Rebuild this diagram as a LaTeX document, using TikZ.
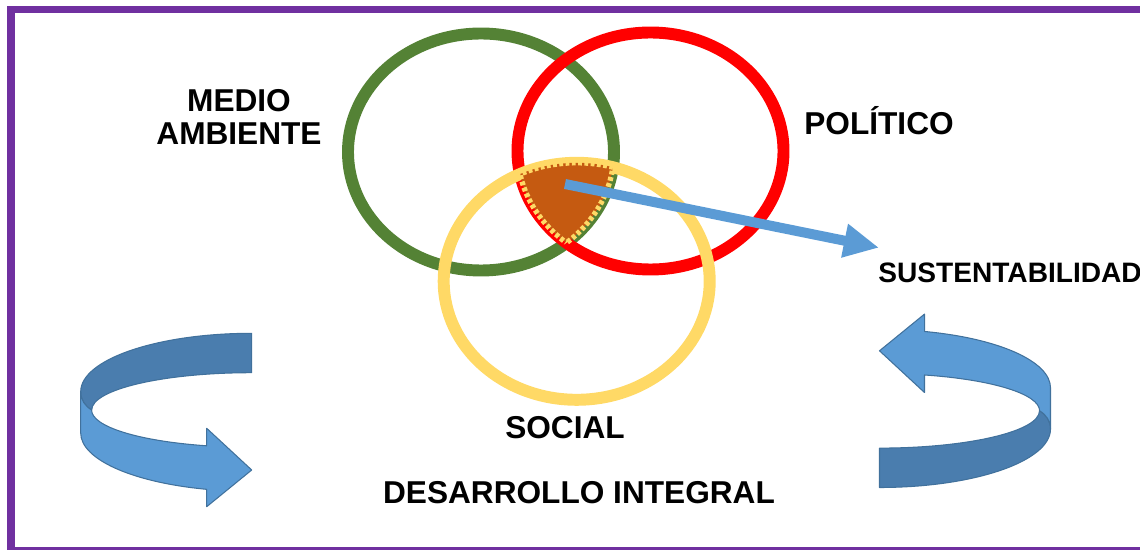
\documentclass[tikz,border=0pt]{standalone}
\usepackage{fontspec}
\setmainfont{Liberation Sans}
\usetikzlibrary{arrows.meta}
\definecolor{framepurple}{HTML}{7030A0}
\definecolor{ringgreen}{HTML}{548235}
\definecolor{ringred}{HTML}{FF0000}
\definecolor{ringyellow}{HTML}{FFD966}
\definecolor{coreorange}{HTML}{C55A11}
\definecolor{bandfront}{HTML}{5B9BD5}
\definecolor{bandback}{HTML}{4A7DAE}
\definecolor{bandline}{HTML}{41719C}
\begin{document}
\begin{tikzpicture}[x=0.02cm,y=-0.02cm]
        \tikzstyle{frame} = [draw=framepurple, line width=4.3pt]
        \tikzstyle{oval} = [x radius=133, y radius=118.5]
        \tikzstyle{ring} = [line width=6.8pt]
        \tikzstyle{seam} = [draw=ringyellow, line width=3pt, dash pattern=on 2.2pt off 1.4pt]
        \tikzstyle{pointer} = [draw=bandfront, line width=5.7pt, -{Triangle[length=20pt, width=18.2pt]}]
        \tikzstyle{heading} = [font=\fontsize{18}{18.8}\selectfont\bfseries, inner sep=0pt]
        \tikzstyle{backband} = [fill=bandback, draw=bandline, line width=0.6pt, line join=round]
        \tikzstyle{frontband} = [fill=bandfront, draw=bandline, line width=0.6pt, line join=round]

        \clip (0,0) rectangle (1140,550);
        \draw[frame] (10.8,9.7) rectangle (1160,550.5);

        \coordinate (gc) at (481,152);
        \coordinate (rc) at (650.5,151);
        \coordinate (yc) at (576.7,281.3);

        \draw[ring, ringgreen] (gc) ellipse [oval];
        \draw[ring, ringred] (rc) ellipse [oval];
        \draw[ring, ringyellow] (yc) ellipse [oval];

        \begin{scope}
            \clip (gc) ellipse [oval];
            \clip (rc) ellipse [oval];
            \fill[coreorange] (yc) ellipse [oval];
        \end{scope}
        \begin{scope}
            \clip (rc) ellipse [oval];
            \clip (yc) ellipse [oval];
            \draw[seam] (gc) ellipse [oval];
        \end{scope}
        \begin{scope}
            \clip (gc) ellipse [oval];
            \clip (yc) ellipse [oval];
            \draw[seam] (rc) ellipse [oval];
        \end{scope}
        \begin{scope}
            \clip (gc) ellipse [oval];
            \clip (rc) ellipse [oval];
            \draw[seam] (yc) ellipse [oval];
        \end{scope}

        \coordinate (hub) at (565,184);
        \coordinate (goal) at (879,247.7);
        \draw[pointer] (hub) -- (goal);

        \node[heading, align=center] (medio) at (239,116.5) {MEDIO\\AMBIENTE};
        \node[heading, anchor=base] (politico) at (879,134.3) {POLÍTICO};
        \node[heading, font=\fontsize{16}{18}\selectfont\bfseries, anchor=base west] (sust) at (878,283) {SUSTENTABILIDAD};
        \node[heading, anchor=base] (social) at (565,438.3) {SOCIAL};
        \node[heading, anchor=base] (desarrollo) at (579,503.3) {DESARROLLO INTEGRAL};

        \filldraw[backband] (251.7,333.3) arc [start angle=270, end angle=180, x radius=171, y radius=58.4]
            .. controls (80.7,400) and (85,406) .. (91.7,410)
            arc [start angle=180, end angle=270, x radius=160, y radius=37.3] -- cycle;
        \filldraw[frontband] (80.7,391.7) -- (80.7,433)
            arc [start angle=180, end angle=105.3, x radius=171, y radius=58.4]
            -- (206.7,506.7) -- (251.7,470) -- (206.7,428.3) -- (206.7,445.8)
            arc [start angle=106.3, end angle=180, x radius=160, y radius=37.3]
            .. controls (85,406) and (80.7,400) .. cycle;

        \begin{scope}[rotate around={180:(565.6,410.4)}]
            \filldraw[backband] (251.7,333.3) arc [start angle=270, end angle=180, x radius=171, y radius=58.4]
                .. controls (80.7,400) and (85,406) .. (91.7,410)
                arc [start angle=180, end angle=270, x radius=160, y radius=37.3] -- cycle;
            \filldraw[frontband] (80.7,391.7) -- (80.7,433)
                arc [start angle=180, end angle=105.3, x radius=171, y radius=58.4]
                -- (206.7,506.7) -- (251.7,470) -- (206.7,428.3) -- (206.7,445.8)
                arc [start angle=106.3, end angle=180, x radius=160, y radius=37.3]
                .. controls (85,406) and (80.7,400) .. cycle;
        \end{scope}
\end{tikzpicture}
\end{document}
